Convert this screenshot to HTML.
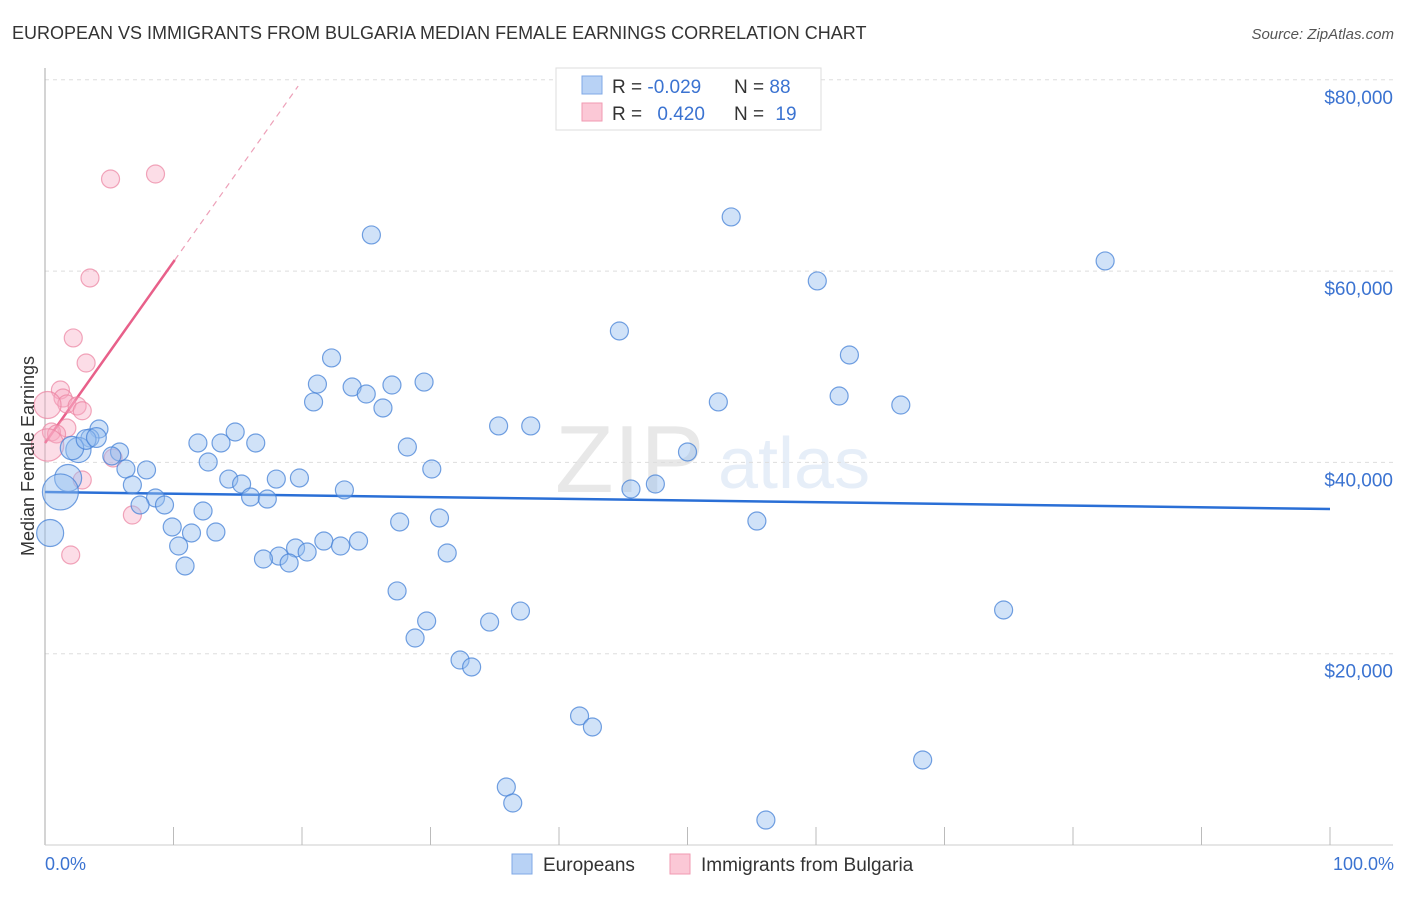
<!DOCTYPE html>
<html><head><meta charset="utf-8"><style>
body{margin:0;background:#fff;font-family:"Liberation Sans",sans-serif}
svg text{font-family:"Liberation Sans",sans-serif}
</style></head><body>
<svg id="chart" width="1406" height="892" viewBox="0 0 1406 892" xmlns="http://www.w3.org/2000/svg">
<text x="12" y="39" font-size="18" fill="#333">EUROPEAN VS IMMIGRANTS FROM BULGARIA MEDIAN FEMALE EARNINGS CORRELATION CHART</text>
<text x="1394" y="39" font-size="15" fill="#555" text-anchor="end" font-style="italic">Source: ZipAtlas.com</text>
<g opacity="0.13">
<text x="555" y="492" font-size="96" font-family="Liberation Serif" fill="#555">ZIP</text>
<text x="718" y="488" font-size="72" fill="#4a7fd0">atlas</text>
</g>
<g id="grid"></g>
<g id="axes"></g>
<g id="lines"></g>
<g id="points"></g>
<text transform="translate(34,456) rotate(-90)" font-size="18" fill="#333" text-anchor="middle">Median Female Earnings</text>
<text x="45" y="870" font-size="18" fill="#3b73d1">0.0%</text>
<text x="1394" y="870" font-size="18" fill="#3b73d1" text-anchor="end">100.0%</text>
<g>
<rect x="556" y="68" width="265" height="62" fill="#fff" stroke="#ddd"/>
<rect x="582" y="76" width="20" height="18" fill="#b8d2f5" stroke="#7fa8e6"/>
<rect x="582" y="103" width="20" height="18" fill="#fbc8d6" stroke="#f09ab2"/>
<text x="612" y="93" font-size="19" fill="#333">R = <tspan fill="#3b73d1">-0.029</tspan></text>
<text x="734" y="93" font-size="19" fill="#333">N = <tspan fill="#3b73d1">88</tspan></text>
<text x="612" y="120" font-size="19" fill="#333">R = <tspan fill="#3b73d1" dx="10">0.420</tspan></text>
<text x="734" y="120" font-size="19" fill="#333">N = <tspan fill="#3b73d1" dx="6">19</tspan></text>
</g>
<g>
<rect x="512" y="854" width="20" height="20" fill="#b8d2f5" stroke="#7fa8e6"/>
<text x="543" y="871" font-size="19" fill="#333">Europeans</text>
<rect x="670" y="854" width="20" height="20" fill="#fbc8d6" stroke="#f09ab2"/>
<text x="701" y="871" font-size="19" fill="#333">Immigrants from Bulgaria</text>
</g>
</svg>
<script>
const yTicks=[20000,40000,60000,80000];
const yTickLabels=["$20,000","$40,000","$60,000","$80,000"];
const blueX=[53.4,25.4,82.5,60.1,44.7,62.6,22.3,29.5,21.2,27.0,23.9,25.0,20.9,52.4,61.8,66.6,26.3,35.3,37.8,14.8,4.2,3.5,11.9,13.7,16.4,28.2,50.0,2.6,5.8,5.2,12.7,6.3,7.9,30.1,14.3,18.0,19.8,6.8,15.3,47.5,45.6,23.3,16.0,17.3,8.6,7.4,9.3,12.3,30.7,27.6,55.4,9.9,11.4,13.3,21.7,24.4,19.5,23.0,10.4,20.4,31.3,18.2,17.0,19.0,10.9,27.4,37.0,74.6,29.7,34.6,28.8,32.3,33.2,41.6,42.6,68.3,35.9,36.4,56.1,1.8,1.2,0.4,2.1,3.2,4.0];
const blueY=[65660,63780,61060,58970,53740,51230,50920,48400,48190,48090,47880,47150,46320,46320,46940,46000,45690,43810,43810,43180,43490,42550,42030,42030,42030,41610,41090,41300,41090,40670,40040,39310,39210,39310,38260,38260,38370,37640,37740,37740,37220,37120,36380,36170,36280,35550,35550,34920,34190,33770,33870,33250,32620,32720,31780,31780,31050,31260,31260,30630,30530,30210,29900,29480,29170,26560,24460,24570,23420,23310,21640,19340,18610,13490,12340,8890,6060,4390,2610,38370,36910,32620,41500,42400,42600];
const blueSize=[1,1,1,1,1,1,1,1,1,1,1,1,1,1,1,1,1,1,1,1,1,1,1,1,1,1,1,1.4,1,1,1,1,1,1,1,1,1,1,1,1,1,1,1,1,1,1,1,1,1,1,1,1,1,1,1,1,1,1,1,1,1,1,1,1,1,1,1,1,1,1,1,1,1,1,1,1,1,1,1,1.5,2,1.5,1.3,1.1,1.1];
const pinkX=[5.1,8.6,3.5,2.2,3.2,1.2,1.4,1.7,2.5,2.9,1.7,0.5,0.9,0.2,0.2,2.9,2.0,6.8,5.3];
const pinkY=[69630,70150,59280,53010,50390,47570,46730,46110,45900,45400,43600,43180,42970,46000,41820,38160,30320,34500,40460];
const pinkSize=[1,1,1,1,1,1,1,1,1,1,1,1,1,1.5,1.8,1,1,1,1];
const blueTrend=[36905,35130];
const pinkTrend=[42030,61160];
const pinkSolidEnd=10.1, pinkDashEnd=19.7;

const X=p=>45+p*12.85;
const Y=v=>845-v*191.3/20000;
const NS="http://www.w3.org/2000/svg";
function mk(t,a,parent){const e=document.createElementNS(NS,t);for(const k in a)e.setAttribute(k,a[k]);parent.appendChild(e);return e;}
const grid=document.getElementById('grid'),axes=document.getElementById('axes'),lines=document.getElementById('lines'),pts=document.getElementById('points');
yTicks.forEach((v,i)=>{
 const l=mk('line',{x1:45,x2:1393,y1:Y(v),y2:Y(v),stroke:'#ddd','stroke-dasharray':'4,4'},grid);
 
 
 const t=mk('text',{x:1393,y:Y(v)+24,'font-size':19,fill:'#3b73d1','text-anchor':'end'},grid);
 t.textContent=yTickLabels[i];
 
 
});
mk('line',{x1:45,x2:45,y1:68,y2:845,stroke:'#aaa'},axes);
mk('line',{x1:45,x2:1393,y1:845,y2:845,stroke:'#ccc'},axes);
for(let i=1;i<=10;i++){const tk=mk('line',{x1:X(i*10),x2:X(i*10),y1:827,y2:845,stroke:'#bbb'},axes);
 
 }
function dot(x,y,s,fill,stroke){const c=mk('circle',{cx:X(x),cy:Y(y),r:9*s,fill:fill,stroke:stroke,'stroke-width':1.2},pts);return c;}
pinkX.forEach((x,i)=>{const c=dot(x,pinkY[i],pinkSize[i],'rgba(248,170,195,0.4)','rgba(235,130,160,0.7)');
 
 });
blueX.forEach((x,i)=>{const c=dot(x,blueY[i],blueSize[i],'rgba(150,190,240,0.45)','rgba(70,130,215,0.75)');
 
 });
const bl=mk('line',{x1:X(0),y1:Y(blueTrend[0]),x2:X(100),y2:Y(blueTrend[1]),stroke:'#2a6fd6','stroke-width':2.5},lines);


const slope=(pinkTrend[1]-pinkTrend[0])/pinkSolidEnd;
const ps=mk('line',{x1:X(0),y1:Y(pinkTrend[0]),x2:X(pinkSolidEnd),y2:Y(pinkTrend[1]),stroke:'#e8608a','stroke-width':2.5},lines);


const pd=mk('line',{x1:X(pinkSolidEnd),y1:Y(pinkTrend[1]),x2:X(pinkDashEnd),y2:Y(pinkTrend[0]+slope*pinkDashEnd),stroke:'#eda0b8','stroke-width':1.2,'stroke-dasharray':'6,5'},lines);


</script>
</body></html>
